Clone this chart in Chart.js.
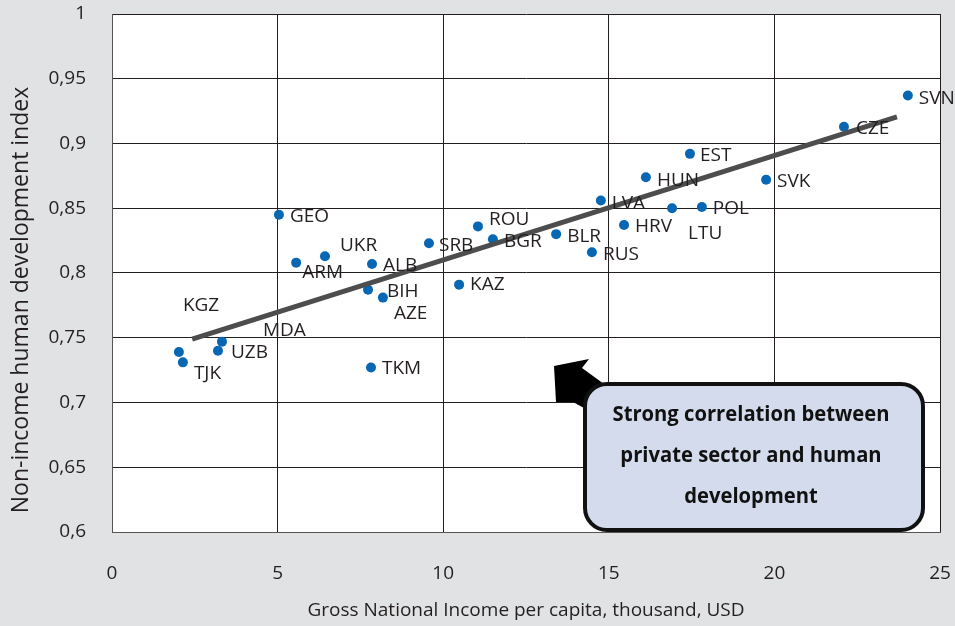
<!DOCTYPE html>
<html lang="en">
<head>
  <meta charset="UTF-8">
  <title>GNI vs non-income HDI</title>
  <script src="https://cdn.jsdelivr.net/npm/chart.js"></script>
  <style>
    html,body { margin:0; padding:0; background:#e1e2e3; }
    canvas { display:block; }
  </style>
</head>
<body>
<canvas id="chart" width="955" height="626"></canvas>

<script>
  // Data
  const countries = ['GEO','ARM','UKR','ALB','BIH','AZE','TKM','SRB','KAZ','ROU','BGR','BLR','RUS',
                     'HRV','LVA','LTU','POL','HUN','EST','SVK','CZE','SVN','KGZ','TJK','UZB','MDA'];
  const gni = [5.04,5.56,6.43,7.85,7.73,8.18,7.82,9.57,10.48,11.05,11.5,13.41,14.49,
               15.46,14.76,16.91,17.81,16.12,17.45,19.75,22.1,24.03,2.02,2.14,3.2,3.32];
  const hdi = [0.845,0.808,0.813,0.807,0.787,0.781,0.727,0.823,0.791,0.836,0.826,0.83,0.816,
               0.837,0.856,0.85,0.851,0.874,0.892,0.872,0.913,0.937,0.739,0.731,0.74,0.747];
  const trendGni = [2.42, 23.7];
  const trendHdi = [0.749, 0.9205];
  const xTicks = [0,5,10,15,20,25];
  const yTicks = [0.6,0.65,0.7,0.75,0.8,0.85,0.9,0.95,1];
  const yTitle = 'Non-income human development index';
  const noteLines = ['Strong correlation between','private sector and human','development'];

  // label offsets from the dot, px
  const labelOffset = {
    GEO:[11,2], ARM:[6,10], UKR:[15,-11], ALB:[11,2], BIH:[19,2], AZE:[11,16], TKM:[11,1],
    SRB:[10,2], KAZ:[11,0], ROU:[11,-7], BGR:[11,2], BLR:[11,2], RUS:[11,2], HRV:[11,2],
    LVA:[11,3], LTU:[16,25], POL:[11,2], HUN:[11,3], EST:[10,2], SVK:[11,2], CZE:[12,2],
    SVN:[11,3], KGZ:[4,-46], TJK:[11,11], UZB:[13,2], MDA:[41,-11]
  };

  const txt = '#231f20';
  const font = '"Open Sans", sans-serif';

  const bgPlugin = {
    id:'bg',
    beforeDraw(chart){
      const {ctx, chartArea:a} = chart;
      ctx.save();
      ctx.fillStyle = '#e1e2e3';
      ctx.fillRect(0,0,chart.width,chart.height);
      ctx.fillStyle = '#ffffff';
      ctx.fillRect(a.left,a.top,a.right-a.left,a.bottom-a.top);
      ctx.restore();
    }
  };

  const labelPlugin = {
    id:'labels',
    afterDatasetsDraw(chart){
      const {ctx} = chart;
      const meta = chart.getDatasetMeta(1);
      ctx.save();
      ctx.font = '19px ' + font;
      ctx.fillStyle = txt;
      ctx.textAlign = 'left';
      ctx.textBaseline = 'middle';
      meta.data.forEach((pt,i)=>{
        const off = labelOffset[countries[i]] || [10,0];
        ctx.fillText(countries[i], pt.x+off[0], pt.y+off[1]);
      });
      // y axis title, sits a bit below the plot middle in the original
      ctx.font = '23px ' + font;
      ctx.textAlign = 'center';
      ctx.translate(21, 300);
      ctx.rotate(-Math.PI/2);
      ctx.fillText(yTitle, 0, 0);
      ctx.restore();
    }
  };

  // arrow + callout box
  const notePlugin = {
    id:'note',
    afterDraw(chart){
      const {ctx, chartArea:a} = chart;
      const bx = a.left+473, by = a.top+370, bw = 338, bh = 146, r = 22;
      ctx.save();
      // arrow
      ctx.fillStyle = '#000';
      ctx.beginPath();
      ctx.moveTo(bx-31, by-18);
      ctx.lineTo(bx+4, by-25);
      ctx.lineTo(bx-3, by-16);
      ctx.lineTo(bx+30, by+8);
      ctx.lineTo(bx+10, by+30);
      ctx.lineTo(bx-12, by+18);
      ctx.lineTo(bx-29, by+18);
      ctx.closePath();
      ctx.fill();
      // box
      ctx.beginPath();
      ctx.roundRect(bx, by, bw, bh, r);
      ctx.fillStyle = '#d3dbec';
      ctx.fill();
      ctx.lineWidth = 4;
      ctx.strokeStyle = '#111';
      ctx.stroke();
      // condensed bold text
      ctx.fillStyle = '#111';
      ctx.font = 'bold 22px ' + font;
      ctx.textAlign = 'center';
      ctx.textBaseline = 'middle';
      const k = 277 / ctx.measureText(noteLines[0]).width;
      ctx.translate(bx+bw/2-3, by+31);
      ctx.scale(k,1);
      noteLines.forEach((l,i)=>ctx.fillText(l, 0, i*41));
      ctx.restore();
    }
  };

  new Chart(document.getElementById('chart'),{
    data:{
      datasets:[
        {
          type:'line',
          data:trendGni.map((x,i)=>({x, y:trendHdi[i]})),
          borderColor:'#4d4d4d', borderWidth:5, pointRadius:0, fill:false,
          borderCapStyle:'butt'
        },
        {
          type:'scatter',
          data:gni.map((x,i)=>({x, y:hdi[i]})),
          backgroundColor:'#0867b2', borderWidth:0, pointRadius:5
        }
      ]
    },
    options:{
      responsive:false,
      animation:false,
      layout:{ padding:{ top:14, right:15, left:0, bottom:0 } },
      plugins:{ legend:{display:false}, tooltip:{enabled:false} },
      scales:{
        x:{
          type:'linear', min:0, max:25,
          afterBuildTicks:s=>{ s.ticks = xTicks.map(v=>({value:v})); },
          afterFit:s=>{ s.height = 94; s.paddingLeft = 0; s.paddingRight = 0; },
          grid:{ color:'#231f20', lineWidth:1, drawTicks:false },
          border:{ color:'#555', width:1 },
          ticks:{ color:txt, font:{family:font, size:19}, padding:30, maxRotation:0 },
          title:{ display:true, text:'Gross National Income per capita, thousand, USD',
                  color:txt, font:{family:font, size:19}, padding:{top:0,bottom:4} }
        },
        y:{
          type:'linear', min:0.6, max:1,
          afterBuildTicks:s=>{ s.ticks = yTicks.map(v=>({value:v})); },
          afterFit:s=>{ s.width = 112; s.paddingTop = 0; s.paddingBottom = 0; },
          grid:{ color:'#231f20', lineWidth:1, drawTicks:false },
          border:{ color:'#555', width:1 },
          ticks:{ color:txt, font:{family:font, size:19}, padding:26,
                  callback:v=>String(Math.round(v*100)/100).replace('.',',') },
          title:{ display:false }
        }
      }
    },
    plugins:[bgPlugin, labelPlugin, notePlugin]
  });
</script>
</body>
</html>
